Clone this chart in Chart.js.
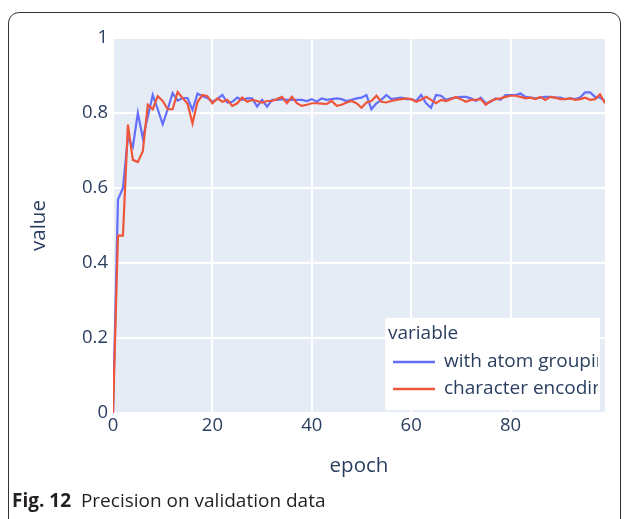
<!DOCTYPE html>
<html><head><meta charset="utf-8">
<script src="https://cdn.jsdelivr.net/npm/chart.js@4"></script>
<style>
html,body{margin:0;padding:0;background:#fff;}
#wrap{position:relative;width:627px;height:519px;overflow:hidden;}
#frame{position:absolute;left:8px;top:12px;width:613px;height:560px;border:1px solid #333;border-radius:11px;box-sizing:border-box;}
canvas{position:absolute;left:0;top:0;}
#cap{position:absolute;left:12px;top:487px;font-family:"Liberation Sans Narrow","Open Sans",sans-serif;font-size:19px;color:#231f20;white-space:pre;}
</style></head>
<body><div id="wrap"><div id="frame"></div><canvas id="c" width="627" height="519"></canvas><div id="cap"><b>Fig. 12</b>  Precision on validation data</div></div>
<script>
const epochs = [0,1,2,3,4,5,6,7,8,9,10,11,12,13,14,15,16,17,18,19,20,21,22,23,24,25,26,27,28,29,30,31,32,33,34,35,36,37,38,39,40,41,42,43,44,45,46,47,48,49,50,51,52,53,54,55,56,57,58,59,60,61,62,63,64,65,66,67,68,69,70,71,72,73,74,75,76,77,78,79,80,81,82,83,84,85,86,87,88,89,90,91,92,93,94,95,96,97,98,99];
const withAtomGrouping = [0,0.569,0.60,0.735,0.71,0.80,0.733,0.79,0.848,0.81,0.77,0.81,0.853,0.833,0.84,0.84,0.808,0.852,0.845,0.84,0.83,0.837,0.848,0.828,0.83,0.841,0.835,0.839,0.839,0.817,0.835,0.817,0.835,0.835,0.837,0.835,0.835,0.835,0.835,0.832,0.837,0.83,0.839,0.835,0.837,0.839,0.837,0.832,0.835,0.839,0.841,0.848,0.81,0.826,0.835,0.848,0.837,0.839,0.841,0.837,0.837,0.832,0.848,0.826,0.814,0.848,0.846,0.835,0.839,0.841,0.843,0.843,0.839,0.832,0.841,0.826,0.83,0.839,0.835,0.848,0.848,0.848,0.852,0.843,0.841,0.839,0.841,0.843,0.843,0.841,0.841,0.837,0.839,0.837,0.841,0.855,0.855,0.843,0.841,0.832];
const characterEncoding = [0,0.473,0.473,0.769,0.675,0.669,0.698,0.822,0.81,0.845,0.832,0.81,0.81,0.856,0.84,0.825,0.772,0.83,0.848,0.845,0.826,0.839,0.83,0.835,0.819,0.826,0.841,0.83,0.835,0.832,0.828,0.832,0.832,0.837,0.843,0.826,0.843,0.826,0.819,0.822,0.826,0.826,0.825,0.824,0.832,0.819,0.822,0.828,0.832,0.826,0.814,0.828,0.832,0.846,0.83,0.828,0.832,0.835,0.837,0.839,0.837,0.83,0.835,0.843,0.835,0.826,0.835,0.832,0.837,0.843,0.837,0.83,0.835,0.835,0.837,0.822,0.832,0.837,0.839,0.843,0.846,0.846,0.843,0.839,0.841,0.837,0.843,0.835,0.843,0.841,0.837,0.837,0.839,0.835,0.837,0.841,0.835,0.837,0.85,0.826];
const seriesNames = ['with atom grouping','character encoding'];
const legendTitle = 'variable';
const xTicks = [0,20,40,60,80];
const yTicks = [0,0.2,0.4,0.6,0.8,1];
const yTickLabels = ['0','0.2','0.4','0.6','0.8','1'];

const tickColor = '#2a3f5f';
const bgPlugin = {
  id:'bg',
  beforeDraw(chart){
    const {ctx, chartArea:a} = chart;
    ctx.save(); ctx.fillStyle='#E5ECF6';
    ctx.fillRect(a.left,a.top,a.right-a.left,a.bottom-a.top);
    ctx.restore();
  }
};
const legendPlugin = {
  id:'plotlyLegend',
  afterDraw(chart){
    const ctx = chart.ctx;
    const bx=385, by=318, bw=215, bh=92;
    ctx.save();
    ctx.fillStyle='#ffffff';
    ctx.fillRect(bx,by,bw,bh);
    ctx.beginPath(); ctx.rect(bx,by,bw-2,bh); ctx.clip();
    ctx.fillStyle=tickColor; ctx.font='19px "Open Sans"'; ctx.textBaseline='middle'; ctx.textAlign='left';
    ctx.fillText(legendTitle, bx+3, by+16);
    chart.data.datasets.slice().sort((p,q)=>p.legendIndex-q.legendIndex).forEach((ds,i)=>{
      const y = by+44+27*i;
      ctx.strokeStyle=ds.borderColor; ctx.lineWidth=2.5;
      ctx.beginPath(); ctx.moveTo(bx+8,y); ctx.lineTo(bx+50,y); ctx.stroke();
      ctx.fillStyle=tickColor;
      ctx.fillText(ds.label, bx+59, y);
    });
    ctx.restore();
  }
};

new Chart(document.getElementById('c'), {
  type:'line',
  data:{
    datasets:[
      {label:seriesNames[0], legendIndex:0, order:1, data:epochs.map((e,i)=>({x:e,y:withAtomGrouping[i]})), borderColor:'#636efa', backgroundColor:'#636efa'},
      {label:seriesNames[1], legendIndex:1, order:0, data:epochs.map((e,i)=>({x:e,y:characterEncoding[i]})), borderColor:'#EF553B', backgroundColor:'#EF553B'}
    ]
  },
  options:{
    responsive:false, animation:false,
    layout:{padding:{top:38,right:22,left:0,bottom:0}},
    plugins:{legend:{display:false},tooltip:{enabled:false}},
    elements:{point:{radius:0},line:{tension:0,borderWidth:2.2}},
    scales:{
      x:{type:'linear',min:0,max:99,
        afterFit(s){s.height=106;},
        afterBuildTicks(s){s.ticks=xTicks.map(v=>({value:v}));},
        grid:{color:'#ffffff',lineWidth:2,drawTicks:false},
        border:{display:false},
        ticks:{color:tickColor,font:{family:'Open Sans',size:18.5},padding:2,maxRotation:0,autoSkip:false},
        title:{display:true,text:'epoch',color:tickColor,font:{family:'Open Sans',size:20.5},padding:{top:0,bottom:41}}
      },
      y:{min:0,max:1,
        afterFit(s){s.width=113;},
        afterBuildTicks(s){s.ticks=yTicks.map(v=>({value:v}));},
        grid:{color:'#ffffff',lineWidth:2,drawTicks:false},
        border:{display:false},
        ticks:{color:tickColor,font:{family:'Open Sans',size:18.5},padding:5,callback:(v,i)=>yTickLabels[i]},
        title:{display:true,text:'value',color:tickColor,font:{family:'Open Sans',size:20.5},padding:{top:27,bottom:0}}
      }
    }
  },
  plugins:[bgPlugin, legendPlugin]
});
</script>
</body></html>
